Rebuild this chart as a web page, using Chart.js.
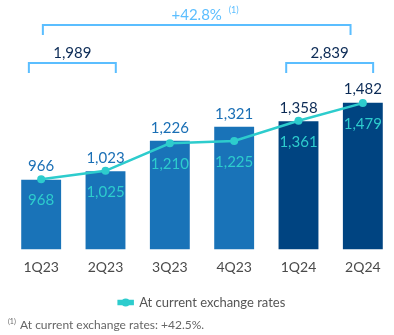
<!DOCTYPE html>
<html>
<head>
<meta charset="utf-8">
<script src="https://cdn.jsdelivr.net/npm/chart.js@4/dist/chart.umd.min.js"></script>
<style>
  html, body { margin: 0; padding: 0; background: #fff; overflow: hidden; }
  #wrap { position: relative; width: 404px; height: 335px; }
</style>
</head>
<body>
<div id="wrap"><canvas id="chart"></canvas></div>
<script>
// quarters and values
var quarters = ['1Q23', '2Q23', '3Q23', '4Q23', '1Q24', '2Q24'];
var constantRates = [966, 1023, 1226, 1321, 1358, 1482];   // bars
var currentRates = [968, 1025, 1210, 1225, 1361, 1479];    // line
var groupLabels = ['1,989', '2,839'];
var groupFrom = [0, 4];
var groupTo = [1, 5];
var totalLabel = '+42.8%';
var footnote = 'At current exchange rates: +42.5%.';

var FONT = 'Lato, "Open Sans", sans-serif';
var barColors = ['#1973b8', '#1973b8', '#1973b8', '#1973b8', '#004481', '#004481'];
var barLabelColors = ['#1a6fb5', '#1a6fb5', '#1a6fb5', '#1a6fb5', '#0b2a55', '#0b2a55'];
var aqua = '#2dcccd';
var bracketBlue = '#5bbeff';

var labelsPlugin = {
  id: 'labels',
  afterDatasetsDraw: function(chart) {
    var ctx = chart.ctx;
    var x = chart.scales.x;
    ctx.save();
    ctx.textAlign = 'center';
    ctx.textBaseline = 'middle';

    // bar values above bars
    ctx.font = '15px ' + FONT;
    chart.getDatasetMeta(1).data.forEach(function(bar, i) {
      ctx.fillStyle = barLabelColors[i];
      ctx.fillText(constantRates[i].toLocaleString('en-US'), bar.x, bar.y - 13);
    });

    // line values inside bars
    chart.getDatasetMeta(0).data.forEach(function(pt, i) {
      ctx.fillStyle = aqua;
      ctx.fillText(currentRates[i].toLocaleString('en-US'), pt.x, pt.y + 21);
    });

    // brackets
    ctx.strokeStyle = bracketBlue;
    ctx.lineWidth = 2;
    function bracket(x1, x2, yTop, yBot) {
      ctx.beginPath();
      ctx.moveTo(x1, yBot);
      ctx.lineTo(x1, yTop);
      ctx.lineTo(x2, yTop);
      ctx.lineTo(x2, yBot);
      ctx.stroke();
    }
    for (var g = 0; g < groupLabels.length; g++) {
      var x1 = x.getPixelForValue(groupFrom[g]) - 12.3;
      var x2 = x.getPixelForValue(groupTo[g]) + 10.3;
      bracket(x1, x2, 63, 73);
      ctx.fillStyle = '#0b2a55';
      ctx.fillText(groupLabels[g], (x1 + x2) / 2, 53.5);
    }
    var bx1 = x.getPixelForValue(0) + 1.7;
    var bx2 = x.getPixelForValue(5) - 12.3;
    bracket(bx1, bx2, 25, 35);
    var cx = (bx1 + bx2) / 2;
    ctx.fillStyle = bracketBlue;
    ctx.fillText(totalLabel, cx, 15);
    ctx.font = '9px ' + FONT;
    ctx.textAlign = 'left';
    ctx.fillText('(1)', cx + 32, 10);
    ctx.restore();
  },
  afterDraw: function(chart) {
    var ctx = chart.ctx;
    ctx.save();
    // circle on the legend marker
    var box = chart.legend.legendHitBoxes[0];
    if (box) {
      ctx.fillStyle = aqua;
      ctx.beginPath();
      ctx.arc(box.left + 7, box.top + box.height / 2, 4, 0, Math.PI * 2);
      ctx.fill();
    }
    // footnote
    ctx.fillStyle = '#666';
    ctx.textBaseline = 'middle';
    ctx.textAlign = 'left';
    ctx.font = '7px ' + FONT;
    ctx.fillText('(1)', 8, 322);
    ctx.font = '12px ' + FONT;
    ctx.fillText(footnote, 20, 325);
    ctx.restore();
  }
};

var lineData = {
  type: 'line',
  label: 'At current exchange rates',
  data: currentRates,
  borderColor: aqua,
  backgroundColor: aqua,
  borderWidth: 2.5,
  pointRadius: 4,
  pointBackgroundColor: aqua,
  pointBorderWidth: 0,
  tension: 0,
  order: 0
};

var barData = {
  type: 'bar',
  label: 'At constant exchange rates',
  data: constantRates,
  backgroundColor: barColors,
  barPercentage: 0.62,
  categoryPercentage: 1,
  order: 1
};

new Chart(document.getElementById('chart'), {
  data: { labels: quarters, datasets: [lineData, barData] },
  options: {
    responsive: true,
    maintainAspectRatio: false,
    animation: false,
    layout: { padding: { left: 9, right: 9, top: 0, bottom: 16 } },
    plugins: {
      tooltip: { enabled: false },
      legend: {
        display: true,
        position: 'bottom',
        labels: {
          filter: function(item) { return item.datasetIndex === 0; },
          boxWidth: 14,
          boxHeight: 3,
          color: '#555',
          font: { family: FONT, size: 13 }
        }
      }
    },
    scales: {
      x: {
        grid: { display: false, drawTicks: false },
        border: { display: false },
        ticks: { color: '#4a4a4a', padding: 10, font: { family: FONT, size: 14 } }
      },
      y: {
        display: false,
        min: 500,
        max: 2143
      }
    }
  },
  plugins: [labelsPlugin]
});
</script>
</body>
</html>
